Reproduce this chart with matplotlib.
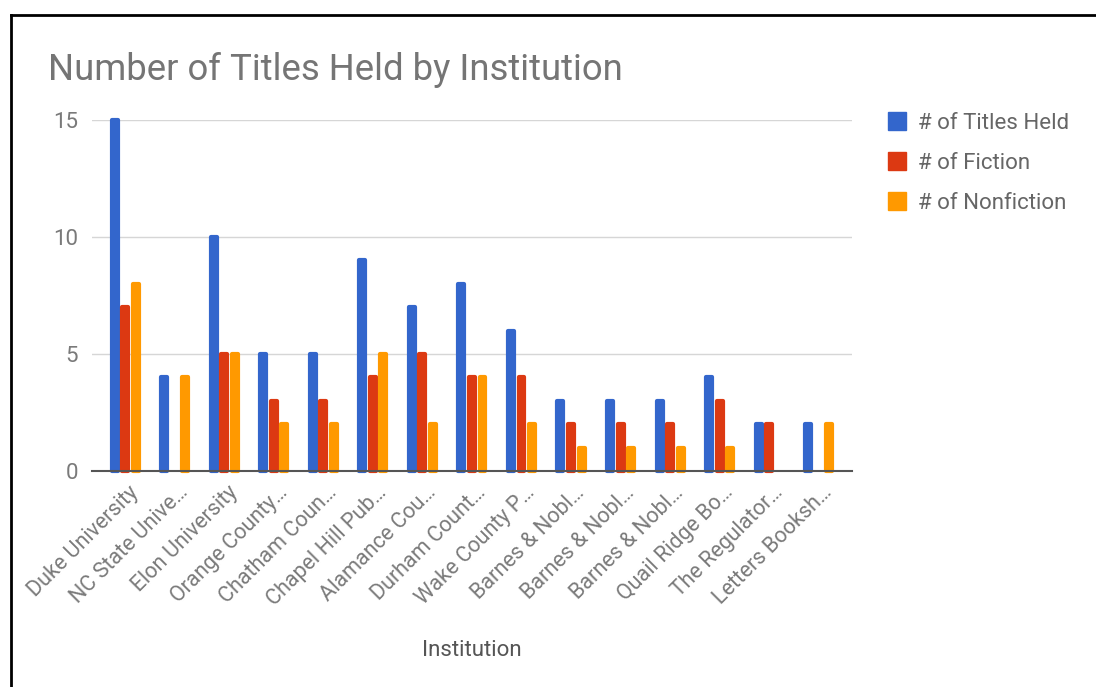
import numpy as np
import matplotlib
matplotlib.use("Agg")
import matplotlib.pyplot as plt
from matplotlib.lines import Line2D
from matplotlib.transforms import ScaledTranslation

plt.rcParams['font.family'] = ['Roboto', 'DejaVu Sans']

institutions = ["Duke University", "NC State Unive…", "Elon University", "Orange County…",
                "Chatham Coun…", "Chapel Hill Pub…", "Alamance Cou…", "Durham Count…",
                "Wake County P…", "Barnes & Nobl…", "Barnes & Nobl…", "Barnes & Nobl…",
                "Quail Ridge Bo…", "The Regulator…", "Letters Booksh…"]
titles_held = [15, 4, 10, 5, 5, 9, 7, 8, 6, 3, 3, 3, 4, 2, 2]
fiction = [7, 0, 5, 3, 3, 4, 5, 4, 4, 2, 2, 2, 3, 2, 0]
nonfiction = [8, 4, 5, 2, 2, 5, 2, 4, 2, 1, 1, 1, 1, 0, 2]

series = ["# of Titles Held", "# of Fiction", "# of Nonfiction"]
colors = ["#3366cc", "#dc3912", "#ff9900"]

fig = plt.figure(figsize=(10.96, 6.87), dpi=100)
ax = fig.add_axes([0.0839, 0.3144, 0.6934, 0.5109])

x = np.arange(len(institutions))
step = 0.213
bw = 0.12
for i, (vals, c, name) in enumerate(zip([titles_held, fiction, nonfiction], colors, series)):
    bars = ax.bar(x + (i - 1) * step, vals, width=bw, color=c, edgecolor=c,
                  linewidth=3, joinstyle='round', zorder=3, label=name, clip_on=False)
    for b in bars:
        if b.get_height() == 0:
            b.set_visible(False)

ax.set_xlim(-0.67, len(institutions) - 0.33)
ax.set_ylim(0, 15)
ax.set_yticks([0, 5, 10, 15])
ax.yaxis.grid(True, color="#d6d6d6", linewidth=1)
ax.set_axisbelow(True)
for s in ["top", "right", "left"]:
    ax.spines[s].set_visible(False)
ax.spines["bottom"].set_color("#555555")
ax.spines["bottom"].set_linewidth(1.5)
ax.spines["bottom"].set_zorder(4)
ax.tick_params(axis='both', length=0, colors="#7a7a7a")
ax.tick_params(axis='y', labelsize=16, pad=10)

ax.set_xticks(x)
ax.set_xticklabels(institutions, rotation=45, ha='right', rotation_mode='anchor',
                   fontsize=15.5, color="#7a7a7a")
ax.tick_params(axis='x', pad=8)
shift = ScaledTranslation(3 / 100, 0, fig.dpi_scale_trans)
for lab in ax.get_xticklabels():
    lab.set_transform(lab.get_transform() + shift)

fig.text(0.5 * (0.0839 * 2 + 0.6934), 1 - 651 / 687, "Institution", ha='center', va='center',
         fontsize=16, color="#555555")
fig.text(48 / 1096, 1 - 70 / 687, "Number of Titles Held by Institution", ha='left', va='center',
         fontsize=26.3, color="#757575")

leg = fig.legend(handles=[Line2D([], [], marker='s', linestyle='none', markersize=13,
                                 markerfacecolor=c, markeredgecolor=c) for c in colors],
                 labels=series, loc='upper left', bbox_to_anchor=(875 / 1096, 1 - 104 / 687),
                 frameon=False, fontsize=16, labelspacing=0.85, handletextpad=0.35,
                 handlelength=1.2, borderaxespad=0)
for t in leg.get_texts():
    t.set_color("#666666")

# thin black frame along the top and left of the image
fig.add_artist(Line2D([11 / 1096, 1], [1 - 15 / 687, 1 - 15 / 687], color="black", linewidth=2,
                      transform=fig.transFigure))
fig.add_artist(Line2D([11 / 1096, 11 / 1096], [0, 1 - 15 / 687], color="black", linewidth=2,
                      transform=fig.transFigure))

fig.savefig("out.png", dpi=100, facecolor="white")
